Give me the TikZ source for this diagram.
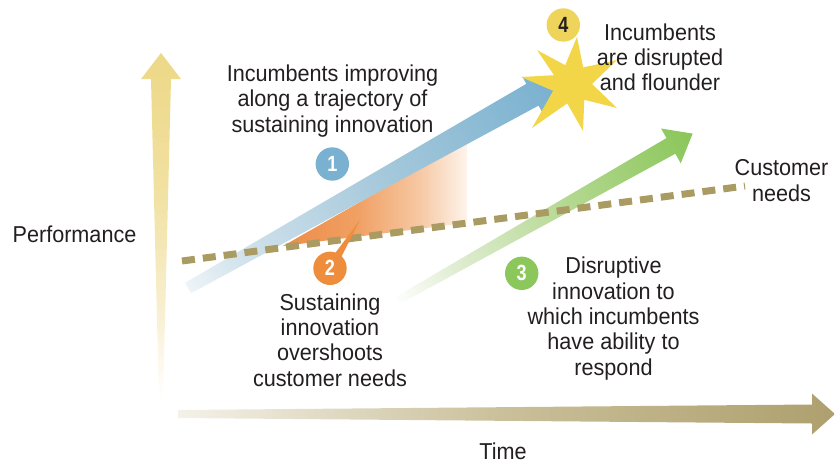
\documentclass[tikz,border=0pt]{standalone}
\usepackage{fontspec}
\setmainfont[FakeStretch=0.94]{Liberation Sans}
\newfontfamily\numfont[FakeStretch=0.82]{Liberation Sans}
\usetikzlibrary{calc}

\definecolor{txt}{HTML}{231F20}
\definecolor{needc}{HTML}{A99B62}
\definecolor{cone}{HTML}{7AB1D1}
\definecolor{ctwo}{HTML}{EE8E3C}
\definecolor{cthree}{HTML}{8CC75B}
\definecolor{cfour}{HTML}{EFD45B}
\definecolor{stary}{HTML}{F2D647}
% axis colours
\definecolor{vaxB}{HTML}{F8EFD0}
\definecolor{vaxC}{HTML}{F1E1A2}
\definecolor{vaxD}{HTML}{EDD887}
\definecolor{haxA}{HTML}{F4F1E8}
\definecolor{haxB}{HTML}{C9BF99}
\definecolor{haxC}{HTML}{AEA06E}
% arrows
\definecolor{bluA}{HTML}{EEF4F7}
\definecolor{bluB}{HTML}{D2E3EC}
\definecolor{bluC}{HTML}{A8CADC}
\definecolor{bluD}{HTML}{78B0CF}
\definecolor{grnB}{HTML}{E0EDD2}
\definecolor{grnC}{HTML}{B2D78E}
\definecolor{grnD}{HTML}{8AC659}
\definecolor{orA}{HTML}{EE8C48}
\definecolor{orB}{HTML}{F0A063}
\definecolor{orC}{HTML}{F6C8A3}
\definecolor{orD}{HTML}{FEF4EC}

\pgfdeclareverticalshading{vaxisshade}{100bp}{color(0bp)=(white); color(25bp)=(white); color(38bp)=(vaxB); color(55bp)=(vaxC); color(75bp)=(vaxD); color(100bp)=(vaxD)}
\pgfdeclarehorizontalshading{haxisshade}{100bp}{color(0bp)=(haxA); color(25bp)=(haxA); color(50bp)=(haxB); color(75bp)=(haxC); color(100bp)=(haxC)}
\pgfdeclarehorizontalshading{blueshade}{100bp}{color(0bp)=(bluA); color(25bp)=(bluA); color(32bp)=(bluB); color(50bp)=(bluC); color(75bp)=(bluD); color(100bp)=(bluD)}
\pgfdeclarehorizontalshading{greenshade}{100bp}{color(0bp)=(white); color(25bp)=(white); color(35bp)=(grnB); color(55bp)=(grnC); color(75bp)=(grnD); color(100bp)=(grnD)}
\pgfdeclarehorizontalshading{orangeshade}{100bp}{color(0bp)=(orA); color(25bp)=(orA); color(45bp)=(orB); color(62bp)=(orC); color(75bp)=(orD); color(100bp)=(orD)}

\tikzset{
  lbl/.style={font=\fontsize{23}{25.3}\selectfont, text=txt, align=center, inner sep=0pt, anchor=base},
  numdot/.style={circle, minimum size=33.4pt, inner sep=0pt, font=\numfont\bfseries\fontsize{22}{22}\selectfont, text=white},
  needline/.style={draw=needc, line width=7pt, dash pattern=on 13pt off 8pt},
}

\begin{document}
\begin{tikzpicture}[x=1pt,y=-1pt]
\useasboundingbox (0,0) rectangle (835,464);

% vertical axis (Performance)
\shade[shading=vaxisshade] (159,400) -- (151,79) -- (141,79) -- (161,53) -- (181,79) -- (171,79) -- (163,400) -- cycle;
% horizontal axis (Time)
\shade[shading=haxisshade] (178,410) -- (812,404.5) -- (812,393.5) -- (835,414) -- (812,434.5) -- (812,423.5) -- (178,418) -- cycle;

% orange overshoot wedge
\shade[shading=orangeshade] (283,246) -- (467,141) -- (467,222.8) -- cycle;

% blue sustaining arrow
\begin{scope}[transform canvas={shift={(188,288)}, rotate=29.3}]
  \shade[shading=blueshade] (0,-6) -- (395,-12.5) -- (395,-20.5) -- (425,0) -- (395,20.5) -- (395,12.5) -- (0,6) -- cycle;
\end{scope}

% green disruptive arrow
\begin{scope}[transform canvas={shift={(395,302)}, rotate=29.5}]
  \shade[shading=greenshade] (0,-4) -- (317,-9) -- (317,-20) -- (342,0) -- (317,20) -- (317,9) -- (0,4) -- cycle;
\end{scope}

% customer needs
\coordinate (cnA) at (182,261);
\coordinate (cnB) at (745,186);
\draw[needline] (cnA) -- (cnB);

% star
\fill[stary] (577,37) -- (583.2,67.4) -- (617,60) -- (592,84) -- (617,108) -- (584.3,99.8) -- (583,131) -- (567.2,103.4) -- (532,128) -- (553.2,90.8) -- (521,77) -- (554,75.2) -- (537,50) -- (565.2,65.2) -- cycle;

% callout pointer of 2
\coordinate (c2c) at (330,268.3);
\coordinate (p2tip) at (360,220);
\fill[ctwo] ($(c2c)!5pt!90:(p2tip)$) -- (p2tip) -- ($(c2c)!5pt!-90:(p2tip)$) -- cycle;

% number dots
\node[numdot, fill=cone] (n1) at (332.3,164) {1};
\node[numdot, fill=ctwo] (n2) at (c2c) {2};
\node[numdot, fill=cthree] (n3) at (521.7,273.3) {3};
\node[numdot, fill=cfour, text=txt] (n4) at (563.3,25) {4};

% labels (base anchor = baseline of the last line)
\node[lbl] (t1) at (332.5,132) {Incumbents improving\\along a trajectory of\\sustaining innovation};
\node[lbl] (t4) at (660,90.7) {Incumbents\\are disrupted\\and flounder};
\node[lbl] (tcn) at (781.5,201) {Customer\\needs};
\node[lbl] (t3) at (613.5,375) {Disruptive\\innovation to\\which incumbents\\have ability to\\respond};
\node[lbl] (t2) at (330,386) {Sustaining\\innovation\\overshoots\\customer needs};
\node[lbl] (tperf) at (74.5,242) {Performance};
\node[lbl] (ttime) at (503,459) {Time};
\end{tikzpicture}
\end{document}
